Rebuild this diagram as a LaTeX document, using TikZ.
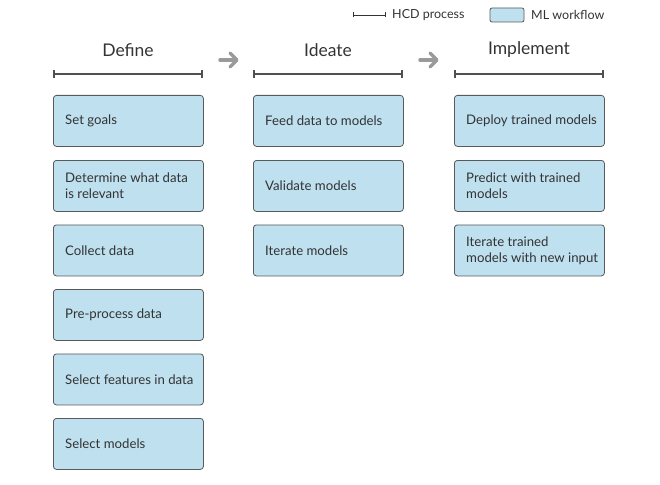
\documentclass[tikz,border=0pt]{standalone}
\usepackage{fontspec}
\setmainfont{Lato}
\usetikzlibrary{arrows.meta,calc}
\definecolor{boxfill}{HTML}{BEE0EF}
\definecolor{boxline}{HTML}{5A5A5A}
\definecolor{hdrline}{HTML}{505050}
\definecolor{arrgray}{HTML}{9A9A9A}
\definecolor{txt}{HTML}{333333}
\tikzset{
  mlbox/.style={draw=boxline, fill=boxfill, rounded corners=3pt, line width=0.8pt,
    minimum width=150pt, minimum height=51pt, anchor=north west, inner sep=0pt},
  mltext/.style={anchor=west, align=left, text=txt, inner sep=0pt, font=\fontsize{13.2}{16}\selectfont},
  hdr/.style={text=txt, font=\fontsize{17.5}{20}\selectfont},
  hcd/.style={draw=hdrline, line width=2.6pt, {Bar[width=8pt,line width=1.6pt]}-{Bar[width=8pt,line width=1.6pt]}},
  legtext/.style={anchor=west, text=txt, inner sep=0pt, font=\fontsize{12.5}{14}\selectfont}
}
\begin{document}
\begin{tikzpicture}[x=1pt,y=-1pt]
\useasboundingbox (0,0) rectangle (660,484);
% legend
\coordinate (l1) at (353,15);
\coordinate (l2) at (386,15);
\draw[draw=txt, line width=0.8pt, {Bar[width=5pt]}-{Bar[width=5pt]}] (l1) -- (l2);
\node[legtext] (lhcd) at (392,15) {HCD process};
\node[draw=boxline, fill=boxfill, rounded corners=2pt, line width=0.8pt, minimum width=34pt, minimum height=14pt, inner sep=0pt] (lbox) at (507,15) {};
\node[legtext] (lml) at (531,15) {ML workflow};
% headers
\foreach \n/\x/\t in {h1/128/Define, h2/328/Ideate, h3/529/Implement}{
  \node[hdr] (\n) at (\x,50) {\t};
}
\foreach \n/\x in {a/53, b/253, c/454}{
  \coordinate (\n L) at (\x,74);
  \coordinate (\n R) at (\x+150,74);
  \draw[hcd] (\n L) -- (\n R);
}
% arrows
\coordinate (ar1s) at (220,60); \coordinate (ar1e) at (237,60);
\coordinate (ar2s) at (420,60); \coordinate (ar2e) at (437,60);
\draw[draw=arrgray, line width=3.5pt, line cap=round] (ar1s) -- ($(ar1e)+(-2,0)$);
\draw[draw=arrgray, line width=3.5pt, line cap=round, line join=round] (230,53) -- (ar1e) -- (230,67);
\draw[draw=arrgray, line width=3.5pt, line cap=round] (ar2s) -- ($(ar2e)+(-2,0)$);
\draw[draw=arrgray, line width=3.5pt, line cap=round, line join=round] (430,53) -- (ar2e) -- (430,67);
% column 1
\foreach \n/\y/\t in {d1/95/Set goals, d2/160/{Determine what data\\is relevant}, d3/224.5/Collect data, d4/289/Pre-process data, d5/353.5/Select features in data, d6/418/Select models}{
  \node[mlbox] (\n) at (53,\y) {};
  \node[mltext] (\n t) at ($(\n.west)+(12,0)$) {\t};
}
% column 2
\foreach \n/\y/\t in {i1/95/Feed data to models, i2/160/Validate models, i3/224.5/Iterate models}{
  \node[mlbox] (\n) at (253,\y) {};
  \node[mltext] (\n t) at ($(\n.west)+(12,0)$) {\t};
}
% column 3
\foreach \n/\y/\t in {m1/95/Deploy trained models, m2/160/{Predict with trained\\models}, m3/224.5/{Iterate trained\\models with new input}}{
  \node[mlbox] (\n) at (454,\y) {};
  \node[mltext] (\n t) at ($(\n.west)+(12,0)$) {\t};
}
\end{tikzpicture}
\end{document}
